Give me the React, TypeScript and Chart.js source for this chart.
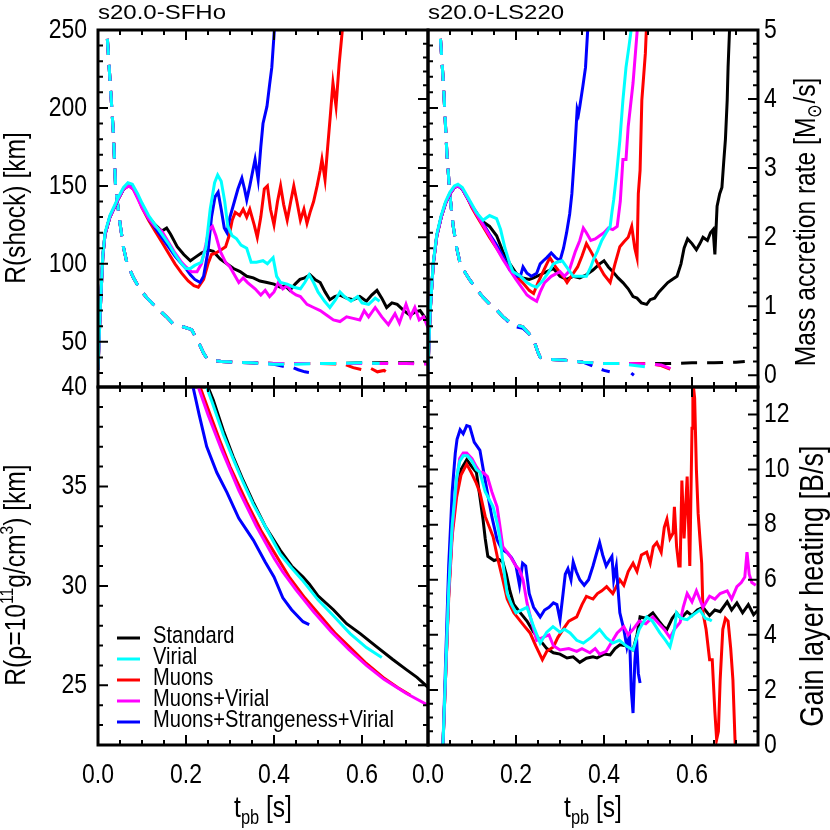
import React, { useEffect, useRef } from "react";
import { Chart, registerables } from "chart.js";
Chart.register(...registerables);

type Pt = [number, number | null];

const FONT = "'Liberation Sans', Arial, Helvetica, sans-serif";
const NARROW = 0.82; // horizontal squeeze that mimics the condensed Helvetica of the original

// ---------- models ----------
const modelNames = ["Standard", "Virial", "Muons", "Muons+Virial", "Muons+Strangeness+Virial"];
const modelColors = ["#000000", "#00ffff", "#ff0000", "#ff00ff", "#0000ff"];
const modelOrder = [5, 1, 4, 2, 3]; // lower = drawn on top

// ---------- axes ----------
const timeRange = [0, 0.75];
const timeSteps = [0.2, 0.05];
const shockRange = [21, 250];
const shockSteps = [50, 10];
const mdotRange = [-0.17, 5];
const mdotSteps = [1, 0.2];
const rhoRange = [22, 40];
const rhoSteps = [5, 1];
const heatRange = [0, 13];
const heatSteps = [2, 0.5];
const panelTitles = ["s20.0-SFHo", "s20.0-LS220"];

// ---------- s20.0-SFHo : shock radius [km] ----------
const sfhoShockStandard: Pt[] = [[0,32],[0.005,70],[0.011,105],[0.016,119],[0.027,130],[0.045,141],[0.058,148],[0.07,151],[0.08,149],[0.09,143],[0.1,137],[0.115,130],[0.13,125],[0.145,121],[0.156,123],[0.165,119],[0.18,111],[0.195,106],[0.21,102],[0.22,104],[0.235,107],[0.25,109],[0.262,108],[0.278,103],[0.293,100],[0.308,97],[0.323,95],[0.338,92],[0.353,91],[0.368,89],[0.384,88],[0.4,87],[0.414,85],[0.425,86],[0.436,83],[0.448,87],[0.459,90],[0.47,91],[0.482,93],[0.493,90],[0.505,88],[0.516,82],[0.527,77],[0.538,79],[0.55,80],[0.565,78],[0.58,77],[0.595,79],[0.61,76],[0.622,80],[0.634,83],[0.645,78],[0.656,72],[0.668,75],[0.68,74],[0.695,70],[0.709,67],[0.72,69],[0.732,70],[0.742,66],[0.75,62]];
const sfhoShockVirial: Pt[] = [[0,32],[0.005,70],[0.011,106],[0.016,120],[0.027,131],[0.045,142],[0.058,149],[0.068,152],[0.078,151],[0.09,145],[0.1,139],[0.115,131],[0.13,125],[0.145,119],[0.16,113],[0.175,106],[0.19,100],[0.2,97],[0.21,97],[0.22,99],[0.235,101],[0.245,110],[0.255,135],[0.265,152],[0.272,157],[0.28,153],[0.288,140],[0.295,124],[0.305,118],[0.315,116],[0.325,112],[0.338,110],[0.348,101],[0.36,101],[0.375,102],[0.385,100],[0.398,104],[0.406,92],[0.415,88],[0.43,87],[0.445,85],[0.46,84],[0.47,88],[0.48,93],[0.49,88],[0.5,82],[0.515,76],[0.527,72],[0.54,77],[0.55,82],[0.56,79],[0.575,76],[0.59,79],[0.6,75],[0.615,74],[0.63,78],[0.64,76]];
const sfhoShockMuons: Pt[] = [[0,32],[0.005,70],[0.011,105],[0.016,119],[0.027,130],[0.045,141],[0.058,148],[0.07,150],[0.08,148],[0.09,143],[0.1,136],[0.115,128],[0.13,121],[0.145,114],[0.16,107],[0.175,100],[0.19,94],[0.205,89],[0.218,86],[0.228,85],[0.24,90],[0.25,100],[0.258,106],[0.268,107],[0.28,109],[0.29,111],[0.298,118],[0.305,128],[0.312,133],[0.322,131],[0.33,135],[0.338,130],[0.345,135],[0.355,125],[0.362,117],[0.37,130],[0.378,148],[0.385,150],[0.392,135],[0.4,125],[0.408,140],[0.415,150],[0.422,138],[0.43,128],[0.438,140],[0.445,150],[0.452,140],[0.46,128],[0.468,135],[0.475,126],[0.482,133],[0.49,140],[0.498,150],[0.505,160],[0.509,167],[0.516,154],[0.522,175],[0.528,195],[0.534,216],[0.541,201],[0.548,228],[0.557,255]];
const sfhoShockMuonsVirial: Pt[] = [[0,32],[0.005,70],[0.011,105],[0.016,119],[0.027,130],[0.045,141],[0.058,148],[0.07,150],[0.08,148],[0.09,142],[0.1,136],[0.115,129],[0.13,124],[0.145,121],[0.16,114],[0.175,107],[0.19,101],[0.2,98],[0.212,95],[0.225,95],[0.235,100],[0.245,112],[0.252,122],[0.26,124],[0.268,118],[0.278,108],[0.29,101],[0.3,98],[0.31,93],[0.32,88],[0.33,91],[0.34,88],[0.357,84],[0.37,80],[0.38,83],[0.39,79],[0.4,82],[0.41,88],[0.42,84],[0.43,86],[0.44,82],[0.45,80],[0.46,79],[0.475,74],[0.49,72],[0.505,70],[0.52,67],[0.535,64],[0.55,63],[0.565,66],[0.58,65],[0.595,64],[0.605,70],[0.615,66],[0.63,72],[0.645,66],[0.66,61],[0.675,68],[0.685,62],[0.7,74],[0.71,66],[0.72,72],[0.73,64],[0.74,66],[0.75,59]];
const sfhoShockMSV: Pt[] = [[0,32],[0.005,70],[0.011,105],[0.016,119],[0.027,130],[0.045,141],[0.058,148],[0.07,151],[0.08,149],[0.09,143],[0.1,137],[0.115,129],[0.13,123],[0.145,117],[0.16,111],[0.175,105],[0.19,100],[0.2,97],[0.21,93],[0.22,90],[0.232,88],[0.24,92],[0.25,108],[0.258,130],[0.266,143],[0.273,146],[0.28,135],[0.287,123],[0.293,120],[0.3,130],[0.31,140],[0.318,148],[0.327,155],[0.333,148],[0.338,141],[0.345,150],[0.352,160],[0.357,167],[0.364,154],[0.37,175],[0.375,190],[0.384,201],[0.39,215],[0.395,226],[0.402,255]];

// ---------- s20.0-SFHo : mass accretion rate [Msun/s] ----------
const sfhoMdotStandard: Pt[] = [[0.015,6],[0.02,5],[0.028,4.2],[0.035,3.5],[0.04,2.72],[0.05,2.2],[0.058,1.85],[0.066,1.62],[0.08,1.42],[0.095,1.25],[0.11,1.13],[0.125,1.03],[0.14,0.94],[0.155,0.85],[0.17,0.75],[0.19,0.71],[0.213,0.66],[0.222,0.55],[0.232,0.43],[0.24,0.32],[0.247,0.25],[0.26,0.22],[0.28,0.2],[0.307,0.19],[0.35,0.18],[0.4,0.17],[0.45,0.17],[0.5,0.17],[0.55,0.17],[0.6,0.18],[0.65,0.18],[0.7,0.18],[0.75,0.18]];
const sfhoMdotVirial: Pt[] = [[0.015,6],[0.02,5],[0.028,4.2],[0.035,3.5],[0.04,2.72],[0.05,2.2],[0.058,1.85],[0.066,1.62],[0.08,1.42],[0.095,1.25],[0.11,1.13],[0.125,1.03],[0.14,0.94],[0.155,0.85],[0.17,0.75],[0.19,0.71],[0.213,0.66],[0.222,0.55],[0.232,0.43],[0.24,0.32],[0.247,0.25],[0.26,0.22],[0.28,0.2],[0.307,0.19],[0.35,0.18],[0.4,0.16],[0.45,0.16],[0.5,0.17],[0.55,0.17],[0.6,0.18],[0.64,0.17]];
const sfhoMdotMuons: Pt[] = [[0.015,6],[0.02,5],[0.028,4.2],[0.035,3.5],[0.04,2.72],[0.05,2.2],[0.058,1.85],[0.066,1.62],[0.08,1.42],[0.095,1.25],[0.11,1.13],[0.125,1.03],[0.14,0.94],[0.155,0.85],[0.17,0.75],[0.19,0.71],[0.213,0.66],[0.222,0.55],[0.232,0.43],[0.24,0.32],[0.247,0.25],[0.26,0.22],[0.28,0.2],[0.307,0.19],[0.35,0.18],[0.4,0.17],[0.45,0.17],[0.5,0.17],[0.56,0.16],[0.58,0.11],[0.6,0.08],[0.62,0.1],[0.635,0.05],[0.65,0.07],[0.66,0.03],[0.67,0.04]];
const sfhoMdotMuonsVirial: Pt[] = [[0.015,6],[0.02,5],[0.028,4.2],[0.035,3.5],[0.04,2.72],[0.05,2.2],[0.058,1.85],[0.066,1.62],[0.08,1.42],[0.095,1.25],[0.11,1.13],[0.125,1.03],[0.14,0.94],[0.155,0.85],[0.17,0.75],[0.19,0.71],[0.213,0.66],[0.222,0.55],[0.232,0.43],[0.24,0.32],[0.247,0.25],[0.26,0.22],[0.28,0.2],[0.307,0.19],[0.35,0.18],[0.4,0.17],[0.45,0.17],[0.5,0.17],[0.55,0.17],[0.6,0.17],[0.65,0.17],[0.7,0.17],[0.75,0.16]];
const sfhoMdotMSV: Pt[] = [[0.015,6],[0.02,5],[0.028,4.2],[0.035,3.5],[0.04,2.72],[0.05,2.2],[0.058,1.85],[0.066,1.62],[0.08,1.42],[0.095,1.25],[0.11,1.13],[0.125,1.03],[0.14,0.94],[0.155,0.85],[0.17,0.75],[0.19,0.71],[0.213,0.66],[0.222,0.55],[0.232,0.43],[0.24,0.32],[0.247,0.25],[0.26,0.22],[0.28,0.2],[0.307,0.19],[0.35,0.18],[0.4,0.16],[0.42,0.13],[0.44,0.12],[0.455,0.08],[0.47,0.05],[0.48,0.04]];

// ---------- s20.0-LS220 : shock radius [km] ----------
const ls220ShockStandard: Pt[] = [[0,32],[0.005,70],[0.012,100],[0.02,118],[0.03,130],[0.04,139],[0.05,145],[0.06,149],[0.068,150],[0.078,148],[0.09,142],[0.1,137],[0.11,132],[0.125,127],[0.14,124],[0.156,118],[0.17,108],[0.186,100],[0.2,94],[0.215,91],[0.23,90],[0.24,91],[0.255,93],[0.27,95],[0.285,97],[0.3,92],[0.315,90],[0.33,92],[0.345,91],[0.36,93],[0.375,96],[0.39,100],[0.4,102],[0.41,98],[0.42,95],[0.432,91],[0.443,88],[0.455,84],[0.466,79],[0.475,78],[0.485,75],[0.497,74],[0.505,77],[0.515,78],[0.525,82],[0.535,85],[0.545,88],[0.555,90],[0.566,92],[0.575,100],[0.582,110],[0.59,116],[0.6,113],[0.61,109],[0.618,113],[0.625,117],[0.635,115],[0.642,120],[0.648,122],[0.652,106],[0.657,137],[0.663,145],[0.668,149],[0.672,165],[0.676,180],[0.68,205],[0.682,226],[0.686,255]];
const ls220ShockVirial: Pt[] = [[0,32],[0.005,70],[0.012,101],[0.02,119],[0.03,131],[0.04,140],[0.05,146],[0.06,150],[0.068,151],[0.078,149],[0.09,143],[0.1,138],[0.11,133],[0.125,128],[0.14,131],[0.156,129],[0.165,122],[0.175,110],[0.186,100],[0.193,95],[0.21,92],[0.225,88],[0.237,86],[0.247,85],[0.26,89],[0.275,95],[0.285,100],[0.293,101],[0.305,102],[0.315,98],[0.33,92],[0.345,92],[0.36,92],[0.37,98],[0.375,102],[0.385,108],[0.395,115],[0.405,120],[0.414,124],[0.418,133],[0.422,141],[0.428,156],[0.436,179],[0.443,205],[0.45,226],[0.457,240],[0.464,255]];
const ls220ShockMuons: Pt[] = [[0,32],[0.005,70],[0.012,100],[0.02,118],[0.03,130],[0.04,139],[0.05,145],[0.06,149],[0.068,150],[0.078,148],[0.09,142],[0.1,136],[0.11,131],[0.125,124],[0.14,117],[0.156,110],[0.17,104],[0.186,97],[0.2,92],[0.215,88],[0.23,83],[0.24,81],[0.25,88],[0.26,94],[0.27,100],[0.277,104],[0.29,98],[0.307,92],[0.316,88],[0.328,93],[0.34,98],[0.35,105],[0.36,113],[0.37,108],[0.38,103],[0.39,98],[0.4,93],[0.414,88],[0.425,100],[0.436,111],[0.445,114],[0.455,117],[0.463,124],[0.47,110],[0.475,104],[0.478,145],[0.482,160],[0.486,205],[0.49,220],[0.494,235],[0.497,255]];
const ls220ShockMuonsVirial: Pt[] = [[0,32],[0.005,70],[0.012,100],[0.02,118],[0.03,130],[0.04,139],[0.05,145],[0.06,149],[0.068,150],[0.078,148],[0.09,142],[0.1,137],[0.11,132],[0.125,125],[0.14,118],[0.156,110],[0.17,103],[0.186,96],[0.2,90],[0.21,86],[0.225,80],[0.235,78],[0.247,76],[0.255,82],[0.265,88],[0.28,92],[0.3,95],[0.31,92],[0.32,95],[0.335,108],[0.345,115],[0.353,123],[0.36,120],[0.37,115],[0.38,116],[0.39,118],[0.4,120],[0.41,123],[0.42,122],[0.43,124],[0.437,140],[0.443,167],[0.45,167],[0.455,188],[0.466,216],[0.477,255]];
const ls220ShockMSV: Pt[] = [[0,32],[0.005,70],[0.012,100],[0.02,118],[0.03,130],[0.04,139],[0.05,145],[0.06,149],[0.068,150],[0.078,148],[0.09,142],[0.1,137],[0.11,133],[0.125,126],[0.14,119],[0.156,112],[0.17,105],[0.186,96],[0.2,92],[0.21,92],[0.216,98],[0.225,94],[0.235,92],[0.247,94],[0.255,100],[0.262,102],[0.27,104],[0.28,107],[0.29,104],[0.3,102],[0.308,110],[0.315,120],[0.322,132],[0.327,145],[0.333,170],[0.339,199],[0.342,196],[0.345,201],[0.352,214],[0.358,226],[0.364,255]];

// ---------- s20.0-LS220 : mass accretion rate [Msun/s] ----------
const ls220MdotStandard: Pt[] = [[0.022,6],[0.027,5],[0.035,4.23],[0.043,3.2],[0.05,2.6],[0.057,2.17],[0.065,1.85],[0.073,1.62],[0.085,1.48],[0.095,1.38],[0.11,1.25],[0.125,1.13],[0.14,1.03],[0.157,0.94],[0.17,0.85],[0.186,0.77],[0.2,0.73],[0.216,0.7],[0.23,0.6],[0.243,0.46],[0.25,0.33],[0.255,0.26],[0.27,0.23],[0.307,0.22],[0.352,0.19],[0.4,0.17],[0.436,0.17],[0.5,0.17],[0.55,0.17],[0.6,0.18],[0.65,0.18],[0.7,0.19],[0.72,0.2]];
const ls220MdotVirial: Pt[] = [[0.022,6],[0.027,5],[0.035,4.23],[0.043,3.2],[0.05,2.6],[0.057,2.17],[0.065,1.85],[0.073,1.62],[0.085,1.48],[0.095,1.38],[0.11,1.25],[0.125,1.13],[0.14,1.03],[0.157,0.94],[0.17,0.85],[0.186,0.77],[0.2,0.73],[0.216,0.7],[0.23,0.6],[0.243,0.46],[0.25,0.33],[0.255,0.26],[0.27,0.23],[0.307,0.22],[0.352,0.19],[0.4,0.17],[0.436,0.17],[0.47,0.14],[0.497,0.12],[0.51,0.12]];
const ls220MdotMuons: Pt[] = [[0.022,6],[0.027,5],[0.035,4.23],[0.043,3.2],[0.05,2.6],[0.057,2.17],[0.065,1.85],[0.073,1.62],[0.085,1.48],[0.095,1.38],[0.11,1.25],[0.125,1.13],[0.14,1.03],[0.157,0.94],[0.17,0.85],[0.186,0.77],[0.2,0.73],[0.216,0.7],[0.23,0.6],[0.243,0.46],[0.25,0.33],[0.255,0.26],[0.27,0.23],[0.307,0.22],[0.352,0.19],[0.4,0.17],[0.45,0.17],[0.5,0.17],[0.53,0.14],[0.55,0.09],[0.57,0.05]];
const ls220MdotMuonsVirial: Pt[] = [[0.022,6],[0.027,5],[0.035,4.23],[0.043,3.2],[0.05,2.6],[0.057,2.17],[0.065,1.85],[0.073,1.62],[0.085,1.48],[0.095,1.38],[0.11,1.25],[0.125,1.13],[0.14,1.03],[0.157,0.94],[0.17,0.85],[0.186,0.77],[0.2,0.73],[0.216,0.7],[0.23,0.6],[0.243,0.46],[0.25,0.33],[0.255,0.26],[0.27,0.23],[0.307,0.22],[0.352,0.19],[0.4,0.17],[0.45,0.17],[0.5,0.16],[0.53,0.15],[0.55,0.1],[0.565,0.04]];
const ls220MdotMSV: Pt[] = [[0.022,6],[0.027,5],[0.035,4.23],[0.043,3.2],[0.05,2.6],[0.057,2.17],[0.065,1.85],[0.073,1.62],[0.085,1.48],[0.095,1.38],[0.11,1.25],[0.125,1.13],[0.14,1.03],[0.157,0.94],[0.17,0.85],[0.186,0.75],[0.2,0.7],[0.216,0.68],[0.23,0.6],[0.243,0.46],[0.25,0.33],[0.255,0.26],[0.27,0.23],[0.307,0.22],[0.352,0.19],[0.38,0.12],[0.4,0.07],[0.413,0.05],[0.44,null],[0.462,0.03],[0.468,0.0]];

// ---------- s20.0-SFHo : R(rho=1e11 g/cm3) [km] ----------
const sfhoRhoStandard: Pt[] = [[0.25,40],[0.262,39.35],[0.285,37.8],[0.307,36.5],[0.33,35.3],[0.353,34.2],[0.38,33.0],[0.414,31.8],[0.44,31.0],[0.466,30.45],[0.48,30.1],[0.5,29.5],[0.535,28.8],[0.565,28.1],[0.596,27.6],[0.63,27.0],[0.67,26.3],[0.7,25.8],[0.725,25.4],[0.75,24.9]];
const sfhoRhoVirial: Pt[] = [[0.247,40],[0.26,39.2],[0.285,37.6],[0.307,36.4],[0.33,35.2],[0.353,34.1],[0.38,33.0],[0.414,31.6],[0.44,30.9],[0.464,30.3],[0.5,29.3],[0.535,28.5],[0.573,27.6],[0.61,26.9],[0.645,26.4]];
const sfhoRhoMuons: Pt[] = [[0.232,40],[0.25,38.9],[0.277,37.3],[0.3,36.0],[0.338,34.2],[0.37,32.8],[0.4,31.7],[0.436,30.4],[0.47,29.4],[0.505,28.5],[0.54,27.6],[0.573,26.9],[0.61,26.1],[0.648,25.4],[0.68,24.9],[0.71,24.5]];
const sfhoRhoMuonsVirial: Pt[] = [[0.228,40],[0.25,38.6],[0.28,36.9],[0.32,34.8],[0.36,33.0],[0.4,31.4],[0.42,30.7],[0.45,29.8],[0.49,28.7],[0.53,27.7],[0.57,26.8],[0.61,26.0],[0.65,25.3],[0.7,24.6],[0.75,24.0]];
const sfhoRhoMSV: Pt[] = [[0.216,40],[0.23,38.6],[0.247,37.0],[0.27,35.7],[0.293,34.7],[0.32,33.4],[0.353,32.3],[0.38,31.2],[0.4,30.45],[0.42,29.4],[0.44,28.8],[0.466,28.2],[0.48,28.05]];

// ---------- s20.0-LS220 : gain layer heating [B/s] ----------
const ls220HeatStandard: Pt[] = [[0.034,0],[0.04,2.5],[0.047,5.5],[0.055,7.8],[0.065,9.3],[0.075,10.0],[0.088,10.36],[0.1,10.1],[0.11,9.9],[0.118,9.0],[0.125,8.2],[0.13,7.5],[0.136,6.85],[0.15,6.7],[0.16,6.75],[0.17,6.65],[0.178,6.2],[0.186,5.6],[0.195,5.1],[0.21,4.8],[0.225,4.5],[0.24,4.1],[0.255,3.8],[0.27,3.5],[0.285,3.35],[0.3,3.3],[0.316,3.16],[0.33,3.2],[0.345,3.0],[0.36,3.15],[0.375,3.2],[0.384,3.16],[0.4,3.3],[0.414,3.27],[0.425,3.5],[0.436,3.64],[0.45,3.6],[0.466,3.45],[0.475,4.0],[0.482,4.65],[0.495,4.6],[0.511,4.8],[0.525,4.5],[0.535,4.3],[0.543,4.2],[0.555,4.6],[0.565,4.8],[0.575,4.6],[0.589,4.84],[0.6,4.7],[0.612,4.9],[0.625,5.0],[0.64,4.7],[0.652,4.9],[0.664,4.84],[0.68,5.2],[0.69,4.9],[0.702,5.16],[0.715,4.8],[0.728,5.1],[0.74,4.73],[0.75,4.9]];
const ls220HeatVirial: Pt[] = [[0.034,0],[0.04,2.6],[0.047,5.6],[0.055,8.0],[0.065,9.7],[0.072,10.3],[0.08,10.5],[0.09,10.5],[0.1,10.3],[0.11,10.0],[0.118,9.9],[0.13,9.2],[0.148,8.65],[0.158,8.0],[0.164,7.45],[0.172,6.4],[0.18,5.5],[0.19,5.1],[0.2,4.8],[0.212,4.9],[0.225,5.0],[0.24,4.3],[0.255,3.7],[0.27,4.1],[0.284,4.3],[0.3,4.1],[0.31,4.2],[0.323,4.07],[0.338,3.8],[0.353,3.7],[0.37,3.9],[0.39,4.2],[0.405,3.9],[0.42,3.7],[0.435,3.8],[0.45,3.6],[0.466,3.45],[0.48,4.2],[0.497,4.65],[0.51,4.5],[0.527,4.07],[0.54,3.8],[0.55,3.56],[0.56,4.2],[0.565,4.8],[0.575,4.6],[0.589,4.55],[0.6,4.7],[0.618,4.9],[0.63,4.6],[0.64,4.55],[0.645,4.5]];
const ls220HeatMuons: Pt[] = [[0.034,0],[0.04,2.5],[0.047,5.3],[0.055,7.6],[0.065,9.0],[0.075,9.8],[0.088,10.2],[0.098,9.9],[0.11,9.5],[0.118,9.16],[0.13,8.3],[0.148,7.56],[0.158,6.8],[0.17,6.0],[0.18,5.3],[0.195,4.8],[0.21,4.5],[0.22,4.3],[0.232,4.07],[0.245,3.6],[0.26,3.1],[0.27,3.4],[0.285,3.56],[0.295,3.9],[0.307,4.2],[0.32,4.5],[0.338,4.65],[0.35,5.1],[0.36,5.4],[0.375,5.3],[0.385,5.5],[0.395,5.6],[0.406,5.75],[0.42,5.5],[0.436,6.0],[0.445,5.8],[0.455,6.3],[0.466,6.6],[0.475,6.3],[0.485,6.9],[0.497,7.0],[0.505,6.6],[0.512,7.2],[0.52,7.35],[0.53,7.0],[0.537,7.9],[0.543,8.2],[0.55,7.5],[0.557,7.7],[0.56,8.65],[0.565,7.2],[0.57,6.5],[0.573,6.5],[0.577,9.6],[0.582,7.5],[0.589,9.75],[0.595,6.5],[0.6,11.5],[0.602,13.2],[0.606,12.6],[0.61,10.0],[0.614,8.4],[0.622,6.6],[0.625,4.8],[0.632,4.2],[0.64,3.1],[0.646,3.1],[0.652,1.2],[0.656,0.2],[0.66,0.5],[0.664,2.36],[0.67,4.2],[0.676,4.6],[0.682,4.5],[0.688,3.5],[0.693,2.36],[0.698,0.07],[0.702,-1]];
const ls220HeatMuonsVirial: Pt[] = [[0.034,0],[0.04,2.5],[0.047,5.5],[0.055,7.8],[0.065,9.6],[0.072,10.4],[0.08,10.6],[0.088,10.6],[0.1,10.4],[0.11,10.1],[0.118,9.9],[0.125,9.9],[0.135,9.75],[0.145,9.2],[0.157,8.65],[0.163,8.0],[0.17,7.2],[0.185,6.9],[0.2,6.5],[0.208,6.36],[0.216,6.0],[0.225,5.16],[0.235,4.5],[0.247,3.8],[0.26,3.9],[0.275,4.0],[0.285,3.6],[0.3,3.45],[0.32,3.5],[0.338,3.4],[0.35,3.5],[0.368,3.35],[0.38,3.5],[0.39,3.3],[0.405,3.4],[0.42,3.8],[0.43,4.07],[0.445,4.3],[0.455,4.0],[0.466,4.2],[0.48,4.5],[0.495,4.4],[0.511,4.65],[0.525,4.4],[0.537,4.2],[0.55,3.9],[0.56,4.2],[0.573,4.45],[0.58,5.0],[0.589,5.5],[0.6,5.2],[0.61,5.6],[0.625,5.0],[0.64,5.4],[0.652,5.3],[0.664,5.5],[0.68,5.6],[0.69,5.3],[0.702,5.75],[0.712,5.9],[0.72,6.1],[0.725,7.0],[0.73,6.2],[0.736,5.9],[0.745,5.8]];
const ls220HeatMSV: Pt[] = [[0.034,0],[0.04,3.0],[0.047,6.5],[0.055,9.2],[0.062,10.6],[0.066,11.1],[0.073,11.45],[0.08,11.3],[0.088,11.6],[0.095,11.56],[0.105,11.0],[0.118,10.7],[0.13,9.6],[0.145,8.3],[0.157,7.45],[0.168,7.1],[0.18,6.98],[0.19,6.8],[0.2,6.5],[0.208,5.8],[0.215,6.6],[0.222,6.5],[0.23,5.5],[0.24,5.0],[0.255,4.65],[0.265,4.9],[0.275,5.0],[0.285,5.16],[0.293,5.1],[0.3,4.55],[0.307,5.5],[0.312,6.2],[0.318,6.4],[0.325,6.0],[0.33,6.65],[0.337,6.3],[0.345,6.0],[0.355,5.8],[0.365,6.0],[0.375,6.5],[0.382,6.9],[0.39,7.35],[0.397,6.9],[0.405,6.5],[0.412,6.7],[0.418,6.85],[0.422,6.0],[0.428,6.5],[0.436,4.8],[0.445,4.2],[0.452,3.56],[0.458,4.0],[0.462,2.0],[0.466,1.16],[0.47,3.0],[0.474,3.9],[0.478,2.6],[0.482,2.25]];

const sfhoShock = [sfhoShockStandard, sfhoShockVirial, sfhoShockMuons, sfhoShockMuonsVirial, sfhoShockMSV];
const sfhoMdot = [sfhoMdotStandard, sfhoMdotVirial, sfhoMdotMuons, sfhoMdotMuonsVirial, sfhoMdotMSV];
const ls220Shock = [ls220ShockStandard, ls220ShockVirial, ls220ShockMuons, ls220ShockMuonsVirial, ls220ShockMSV];
const ls220Mdot = [ls220MdotStandard, ls220MdotVirial, ls220MdotMuons, ls220MdotMuonsVirial, ls220MdotMSV];
const sfhoRho = [sfhoRhoStandard, sfhoRhoVirial, sfhoRhoMuons, sfhoRhoMuonsVirial, sfhoRhoMSV];
const ls220Heat = [ls220HeatStandard, ls220HeatVirial, ls220HeatMuons, ls220HeatMuonsVirial, ls220HeatMSV];

// ---------- helpers ----------
type Seg = { t: string; s: number; dy: number };
function drawRich(ctx: CanvasRenderingContext2D, x: number, y: number, rot: number, segs: Seg[], align: "center" | "left", squeeze = NARROW) {
  const c = ctx as any;
  const prev = c.__narrow;
  c.__narrow = squeeze;
  ctx.save();
  ctx.translate(x, y);
  ctx.rotate(rot);
  let w = 0;
  const widths: number[] = [];
  for (const s of segs) {
    ctx.font = `${s.s}px ${FONT}`;
    const m = ctx.measureText(s.t).width * squeeze;
    widths.push(m);
    w += m;
  }
  let cx = align === "center" ? -w / 2 : 0;
  ctx.textAlign = "left";
  ctx.textBaseline = "alphabetic";
  ctx.fillStyle = "#000";
  segs.forEach((s, i) => {
    ctx.font = `${s.s}px ${FONT}`;
    ctx.fillText(s.t, cx, s.dy);
    cx += widths[i];
  });
  ctx.restore();
  c.__narrow = prev;
}

function tickVals(min: number, max: number, minor: number) {
  const out: number[] = [];
  const k0 = Math.ceil(min / minor - 1e-9);
  const k1 = Math.floor(max / minor + 1e-9);
  for (let k = k0; k <= k1; k++) out.push(k * minor);
  return out;
}
const isMajor = (v: number, step: number) => Math.abs(v / step - Math.round(v / step)) < 1e-6;

function narrowContext(canvas: HTMLCanvasElement) {
  const ctx = canvas.getContext("2d") as any;
  if (ctx.__patched) return;
  const orig = ctx.fillText.bind(ctx);
  ctx.__narrow = NARROW;
  ctx.fillText = (text: string, x: number, y: number) => {
    const k = ctx.__narrow;
    ctx.save();
    ctx.translate(x, y);
    ctx.scale(k, 1);
    orig(text, 0, 0);
    ctx.restore();
  };
  ctx.__patched = true;
}

interface Area { l: number; t: number; r: number; b: number }
interface AxisCfg { range: number[]; steps: number[]; show: boolean }
interface PanelCfg {
  area: Area;
  showX: boolean;
  yL: AxisCfg;
  yR: AxisCfg;
  series: { data: Pt[]; color: string; axis: "yL" | "yR"; dashed: boolean; order: number }[];
  overlay: (ctx: CanvasRenderingContext2D) => void;
}

const YL_W = 98;
const YR_W = 72;
const X_H = 60;
const TICK_SIZE = 28;

function yScale(pos: "left" | "right", a: AxisCfg, width: number) {
  return {
    type: "linear" as const,
    position: pos,
    min: a.range[0],
    max: a.range[1],
    grid: { display: false, drawTicks: false },
    border: { display: false },
    ticks: {
      display: a.show,
      stepSize: a.steps[0],
      includeBounds: false,
      autoSkip: false,
      color: "#000",
      font: { family: FONT, size: TICK_SIZE },
      padding: pos === "left" ? 11 : 6,
      callback: (v: any) => String(Math.round(Number(v) * 100) / 100),
    },
    afterFit: (sc: any) => {
      sc.width = width;
    },
  };
}

function Panel({ cfg }: { cfg: PanelCfg }) {
  const ref = useRef<HTMLCanvasElement>(null);
  useEffect(() => {
    const { area } = cfg;
    narrowContext(ref.current!);
    const frame = {
      id: "frameTicks",
      afterDraw(chart: any) {
        const ctx: CanvasRenderingContext2D = chart.ctx;
        const ca = chart.chartArea;
        const xs = chart.scales.x;
        const yl = chart.scales.yL;
        const yr = chart.scales.yR;
        ctx.save();
        ctx.strokeStyle = "#000";
        ctx.lineWidth = 2;
        ctx.beginPath();
        for (const v of tickVals(timeRange[0], timeRange[1], timeSteps[1])) {
          const p = xs.getPixelForValue(v);
          const len = isMajor(v, timeSteps[0]) ? 10 : 5;
          ctx.moveTo(p, ca.bottom);
          ctx.lineTo(p, ca.bottom - len);
          ctx.moveTo(p, ca.top);
          ctx.lineTo(p, ca.top + len);
        }
        for (const v of tickVals(cfg.yL.range[0], cfg.yL.range[1], cfg.yL.steps[1])) {
          const p = yl.getPixelForValue(v);
          const len = isMajor(v, cfg.yL.steps[0]) ? 10 : 5;
          ctx.moveTo(ca.left, p);
          ctx.lineTo(ca.left + len, p);
        }
        for (const v of tickVals(cfg.yR.range[0], cfg.yR.range[1], cfg.yR.steps[1])) {
          const p = yr.getPixelForValue(v);
          const len = isMajor(v, cfg.yR.steps[0]) ? 10 : 5;
          ctx.moveTo(ca.right, p);
          ctx.lineTo(ca.right - len, p);
        }
        ctx.stroke();
        ctx.lineWidth = 3;
        ctx.strokeRect(ca.left, ca.top, ca.right - ca.left, ca.bottom - ca.top);
        ctx.restore();
        cfg.overlay(ctx);
      },
    };
    const chart = new Chart(ref.current!, {
      type: "line",
      data: {
        datasets: cfg.series.map((s) => ({
          data: s.data.map(([x, y]) => ({ x, y })) as any,
          borderColor: s.color,
          backgroundColor: s.color,
          borderWidth: 3,
          borderDash: s.dashed ? [16, 10] : [],
          pointRadius: 0,
          fill: false,
          tension: 0,
          spanGaps: false,
          yAxisID: s.axis,
          order: s.order,
        })),
      },
      options: {
        animation: false,
        responsive: false,
        maintainAspectRatio: false,
        events: [],
        layout: {
          padding: {
            left: area.l - YL_W,
            right: 830 - area.r - YR_W,
            top: area.t,
            bottom: 830 - area.b - X_H,
          },
        },
        plugins: { legend: { display: false }, tooltip: { enabled: false }, title: { display: false } },
        scales: {
          x: {
            type: "linear",
            position: "bottom",
            min: timeRange[0],
            max: timeRange[1],
            grid: { display: false, drawTicks: false },
            border: { display: false },
            ticks: {
              display: cfg.showX,
              stepSize: timeSteps[0],
              includeBounds: false,
              autoSkip: false,
              maxRotation: 0,
              color: "#000",
              font: { family: FONT, size: TICK_SIZE },
              padding: 13,
              callback: (v: any) => Number(v).toFixed(1),
            },
            afterFit: (sc: any) => {
              sc.height = X_H;
            },
          },
          yL: yScale("left", cfg.yL, YL_W),
          yR: yScale("right", cfg.yR, YR_W),
        } as any,
      },
      plugins: [frame],
    });
    return () => chart.destroy();
  }, [cfg]);
  return (
    <canvas
      ref={ref}
      width={830}
      height={830}
      style={{ position: "absolute", left: 0, top: 0, width: 830, height: 830, pointerEvents: "none" }}
    />
  );
}

function makeSeries(solid: Pt[][], solidAxis: "yL" | "yR", dashed?: Pt[][], dashedAxis?: "yL" | "yR") {
  const out: PanelCfg["series"] = [];
  if (dashed) {
    dashed.forEach((d, i) => out.push({ data: d, color: modelColors[i], axis: dashedAxis!, dashed: true, order: modelOrder[i] + 10 }));
  }
  solid.forEach((d, i) => out.push({ data: d, color: modelColors[i], axis: solidAxis, dashed: false, order: modelOrder[i] }));
  return out;
}

const tTitle = (ctx: CanvasRenderingContext2D, x: number) =>
  drawRich(ctx, x, 817, 0, [{ t: "t", s: 30, dy: 0 }, { t: "pb", s: 20, dy: 7 }, { t: " [s]", s: 30, dy: 0 }], "center");

const panels: PanelCfg[] = [
  {
    area: { l: 98, t: 30, r: 428, b: 387 },
    showX: false,
    yL: { range: shockRange, steps: shockSteps, show: true },
    yR: { range: mdotRange, steps: mdotSteps, show: false },
    series: makeSeries(sfhoShock, "yL", sfhoMdot, "yR"),
    overlay: (ctx) => {
      drawRich(ctx, 98, 19, 0, [{ t: panelTitles[0], s: 20, dy: 0 }], "left", 1.2);
      drawRich(ctx, 25, 208, -Math.PI / 2, [{ t: "R(shock) [km]", s: 30, dy: 0 }], "center");
    },
  },
  {
    area: { l: 428, t: 30, r: 758, b: 387 },
    showX: false,
    yL: { range: shockRange, steps: shockSteps, show: false },
    yR: { range: mdotRange, steps: mdotSteps, show: true },
    series: makeSeries(ls220Shock, "yL", ls220Mdot, "yR"),
    overlay: (ctx) => {
      drawRich(ctx, 428, 19, 0, [{ t: panelTitles[1], s: 20, dy: 0 }], "left", 1.2);
      drawRich(
        ctx,
        815,
        222,
        -Math.PI / 2,
        [
          { t: "Mass accretion rate [M", s: 30, dy: 0 },
          { t: "⊙", s: 20, dy: 6 },
          { t: "/s]", s: 30, dy: 0 },
        ],
        "center"
      );
    },
  },
  {
    area: { l: 98, t: 387, r: 428, b: 745 },
    showX: true,
    yL: { range: rhoRange, steps: rhoSteps, show: true },
    yR: { range: rhoRange, steps: rhoSteps, show: false },
    series: makeSeries(sfhoRho, "yL"),
    overlay: (ctx) => {
      drawRich(
        ctx,
        25,
        575,
        -Math.PI / 2,
        [
          { t: "R(ρ=10", s: 30, dy: 0 },
          { t: "11", s: 19, dy: -12 },
          { t: "g/cm", s: 30, dy: 0 },
          { t: "3", s: 19, dy: -12 },
          { t: ") [km]", s: 30, dy: 0 },
        ],
        "center"
      );
      tTitle(ctx, 263);
      const rows = [636, 657, 678, 699, 720];
      ctx.save();
      modelNames.forEach((name, i) => {
        ctx.strokeStyle = modelColors[i];
        ctx.lineWidth = 3;
        ctx.beginPath();
        ctx.moveTo(117, rows[i] + 2);
        ctx.lineTo(140, rows[i] + 2);
        ctx.stroke();
        ctx.fillStyle = "#000";
        ctx.font = `24.5px ${FONT}`;
        ctx.textAlign = "left";
        ctx.textBaseline = "middle";
        ctx.fillText(name, 153, rows[i]);
      });
      ctx.restore();
    },
  },
  {
    area: { l: 428, t: 387, r: 758, b: 745 },
    showX: true,
    yL: { range: heatRange, steps: heatSteps, show: false },
    yR: { range: heatRange, steps: heatSteps, show: true },
    series: makeSeries(ls220Heat, "yL"),
    overlay: (ctx) => {
      drawRich(ctx, 823, 586, -Math.PI / 2, [{ t: "Gain layer heating [B/s]", s: 33, dy: 0 }], "center");
      tTitle(ctx, 593);
    },
  },
];

export default function App() {
  return (
    <div style={{ position: "absolute", left: 0, top: 0, width: 830, height: 830, background: "#fff" }}>
      {panels.map((p, i) => (
        <Panel key={i} cfg={p} />
      ))}
    </div>
  );
}
